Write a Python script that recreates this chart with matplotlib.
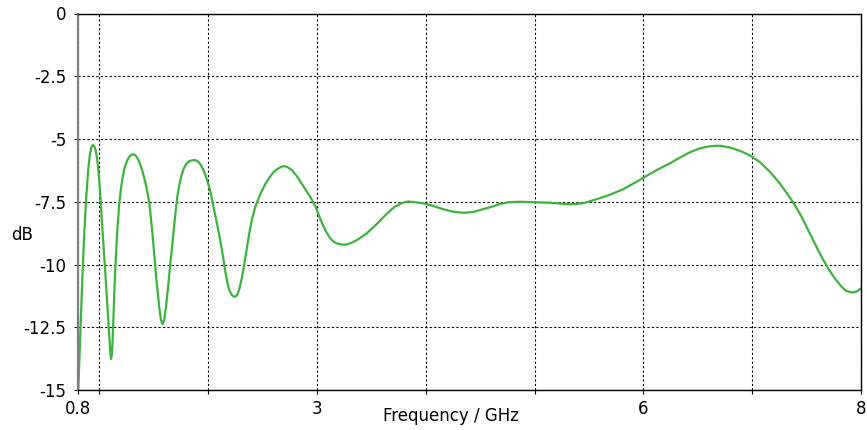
import matplotlib
matplotlib.use("Agg")
import matplotlib.pyplot as plt

# Reflection magnitude vs. frequency
freq_ghz = [
    0.807, 0.817, 0.830, 0.845, 0.862, 0.880, 0.898, 0.913, 0.927, 0.942,
    0.956, 0.970, 0.985, 1.000, 1.015, 1.031, 1.053, 1.071, 1.089, 1.100,
    1.108, 1.115, 1.122, 1.132, 1.144, 1.163, 1.184, 1.200, 1.214, 1.232,
    1.254, 1.275, 1.295, 1.315, 1.335, 1.358, 1.378, 1.398, 1.429, 1.459,
    1.490, 1.521, 1.551, 1.567, 1.582, 1.597, 1.613, 1.637, 1.652, 1.668,
    1.683, 1.700, 1.718, 1.738, 1.756, 1.776, 1.800, 1.825, 1.850, 1.873,
    1.895, 1.915, 1.935, 1.958, 1.978, 1.998, 2.019, 2.050, 2.081, 2.111,
    2.136, 2.157, 2.175, 2.195, 2.219, 2.237, 2.252, 2.268, 2.286, 2.311,
    2.332, 2.356, 2.380, 2.405, 2.430, 2.458, 2.490, 2.525, 2.560, 2.600,
    2.640, 2.680, 2.700, 2.730, 2.770, 2.816, 2.876, 2.938, 2.984, 3.030,
    3.076, 3.121, 3.150, 3.183, 3.230, 3.275, 3.320, 3.367, 3.458, 3.550,
    3.642, 3.718, 3.795, 3.840, 3.886, 3.978, 4.070, 4.162, 4.254, 4.345,
    4.437, 4.499, 4.591, 4.683, 4.759, 4.866, 5.010, 5.142, 5.264, 5.330,
    5.387, 5.463, 5.570, 5.693, 5.815, 5.938, 6.005, 6.121, 6.244, 6.336,
    6.427, 6.519, 6.611, 6.660, 6.703, 6.750, 6.795, 6.887, 6.978, 7.070,
    7.162, 7.254, 7.330, 7.392, 7.453, 7.514, 7.575, 7.637, 7.697, 7.759,
    7.820, 7.860, 7.900, 7.927, 7.950, 7.973, 8.000,
]
s11_db = [
    -15.00, -13.80, -12.30, -10.50, -8.75, -7.35, -6.25, -5.65, -5.33, -5.24,
    -5.30, -5.50, -5.95, -6.65, -7.60, -8.75, -10.15, -11.40, -12.70, -13.40,
    -13.76, -13.62, -13.08, -11.90, -10.45, -8.82, -7.55, -6.95, -6.55, -6.15,
    -5.88, -5.71, -5.63, -5.61, -5.66, -5.82, -6.02, -6.30, -6.83, -7.50,
    -8.82, -10.42, -11.70, -12.20, -12.38, -12.20, -11.70, -10.70, -10.00, -9.35,
    -8.68, -7.95, -7.28, -6.78, -6.45, -6.18, -5.99, -5.89, -5.85, -5.84,
    -5.86, -5.93, -6.05, -6.24, -6.47, -6.74, -7.05, -7.70, -8.36, -9.02,
    -9.65, -10.25, -10.68, -11.02, -11.22, -11.28, -11.28, -11.20, -11.00, -10.52,
    -10.00, -9.35, -8.72, -8.17, -7.76, -7.43, -7.10, -6.80, -6.55, -6.33,
    -6.18, -6.10, -6.08, -6.12, -6.24, -6.48, -6.88, -7.30, -7.66, -8.17,
    -8.63, -8.95, -9.08, -9.16, -9.21, -9.20, -9.13, -9.03, -8.76, -8.39,
    -7.98, -7.69, -7.53, -7.49, -7.51, -7.56, -7.67, -7.80, -7.90, -7.94,
    -7.91, -7.83, -7.72, -7.59, -7.52, -7.50, -7.52, -7.54, -7.58, -7.60,
    -7.59, -7.54, -7.40, -7.22, -7.00, -6.70, -6.53, -6.24, -5.97, -5.74,
    -5.53, -5.37, -5.29, -5.27, -5.27, -5.30, -5.34, -5.47, -5.65, -5.92,
    -6.30, -6.77, -7.23, -7.63, -8.09, -8.63, -9.16, -9.69, -10.15, -10.55,
    -10.88, -11.04, -11.10, -11.11, -11.09, -11.04, -10.95,
]

x_ticks = [0.8, 1, 2, 3, 4, 5, 6, 7, 8]
x_tick_labels = ["0.8", "", "", "3", "", "", "6", "", "8"]
y_ticks = [0, -2.5, -5, -7.5, -10, -12.5, -15]
y_tick_labels = ["0", "-2.5", "-5", "-7.5", "-10", "-12.5", "-15"]

plt.rcParams["font.family"] = ["DejaVu Sans"]

fig = plt.figure(figsize=(8.67, 4.30), dpi=100)
ax = fig.add_axes([77.5 / 867, 1 - 390 / 430, (861 - 77.5) / 867, (390 - 13.5) / 430])

ax.plot(freq_ghz, s11_db, color="#3cb43c", lw=1.6,
        solid_joinstyle="round", solid_capstyle="round")

ax.set_xlim(0.8, 8)
ax.set_ylim(-15, 0)
ax.set_xticks(x_ticks)
ax.set_xticklabels(x_tick_labels)
ax.set_yticks(y_ticks)
ax.set_yticklabels(y_tick_labels)

ax.grid(True, color="black", linestyle=(0, (2, 2)), linewidth=0.8)
ax.tick_params(axis="both", direction="out", length=3, width=0.8,
               labelsize=12, colors="black")
ax.tick_params(axis="x", pad=4)
ax.tick_params(axis="y", pad=5)

for side in ("top", "right", "bottom"):
    ax.spines[side].set_color("black")
    ax.spines[side].set_linewidth(1.0)
ax.spines["left"].set_color("#808080")
ax.spines["left"].set_linewidth(1.6)

fig.text(451 / 867, 1 - 416 / 430, "Frequency / GHz", ha="center", va="center",
         fontsize=12)
fig.text(22 / 867, 1 - 235 / 430, "dB", ha="center", va="center", fontsize=12)

fig.savefig("out.png", dpi=100)
